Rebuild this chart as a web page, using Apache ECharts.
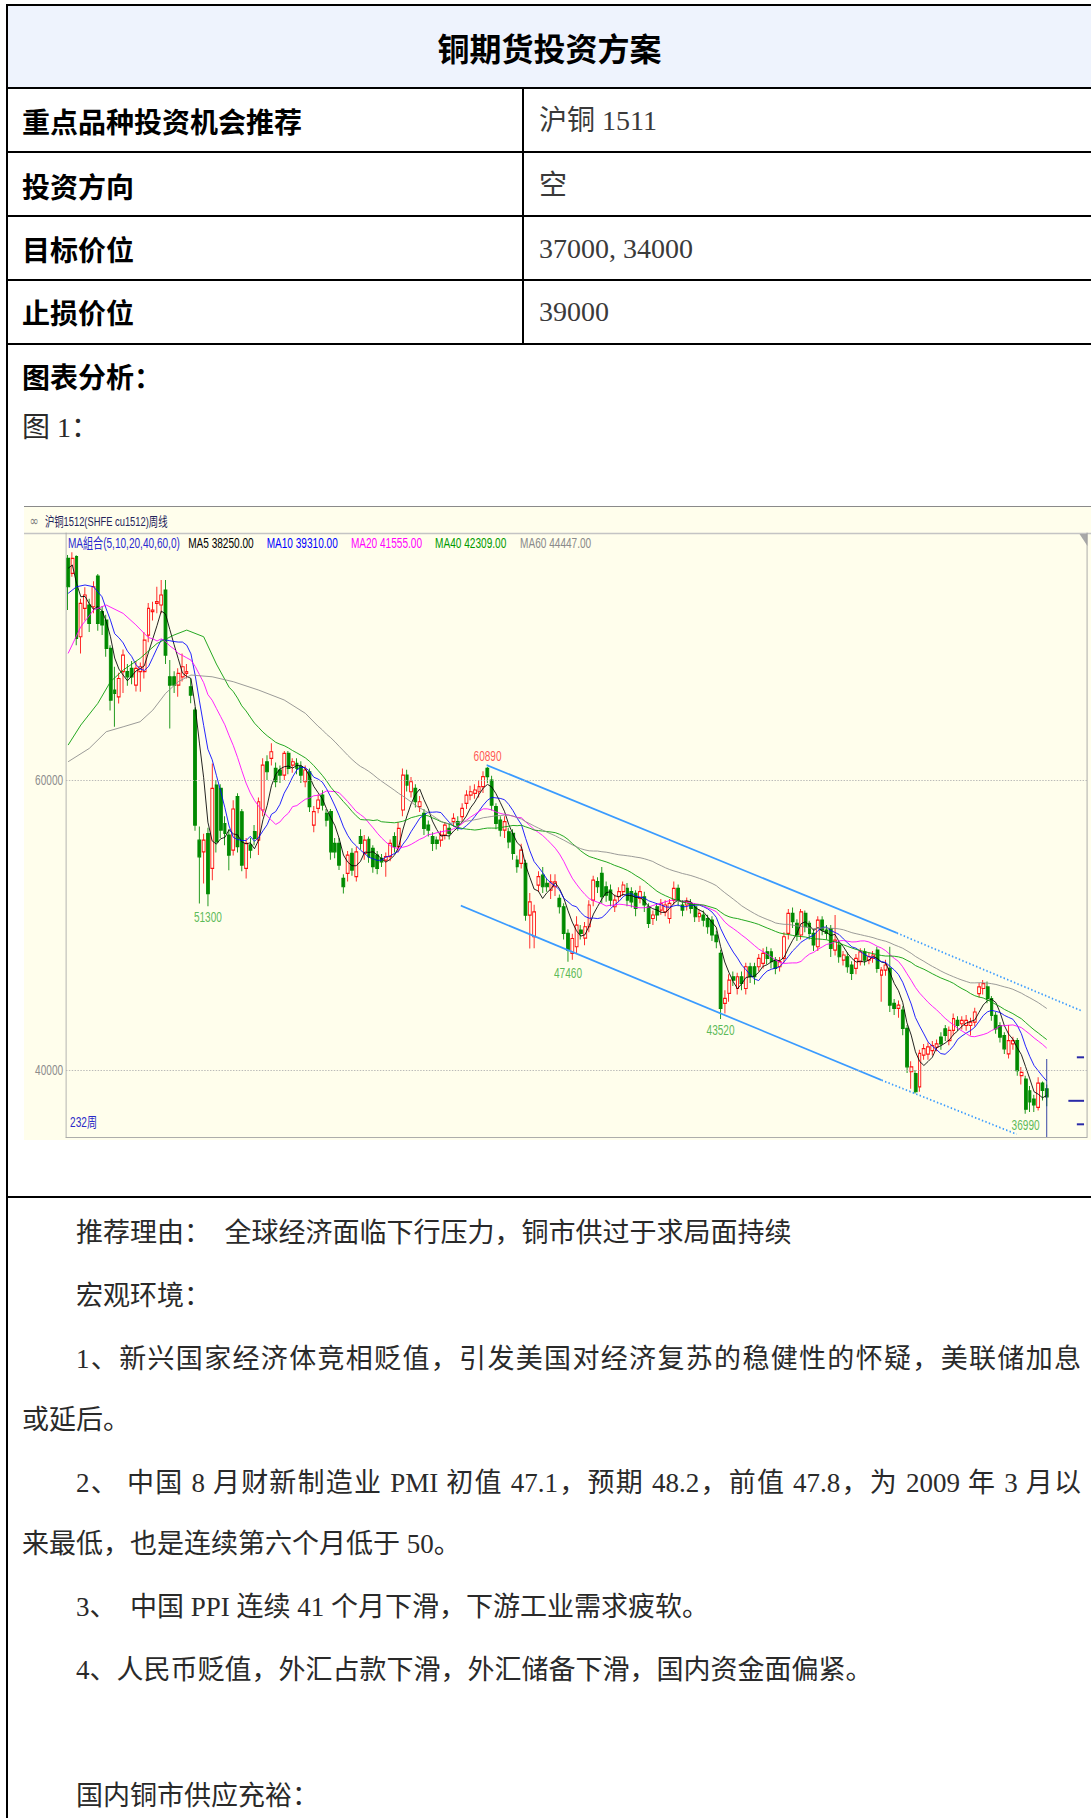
<!DOCTYPE html>
<html><head><meta charset="utf-8">
<script src="https://cdn.jsdelivr.net/npm/echarts@6.0.0/dist/echarts.min.js"></script>
<style>
html,body{margin:0;padding:0;overflow:hidden;background:#fff;}
#page{position:relative;width:1091px;height:1818px;overflow:hidden;background:#fff;}
.ln{position:absolute;background:#000;}
.t{position:absolute;white-space:nowrap;line-height:40px;height:40px;}
.lbl{font-family:"Noto Sans CJK SC",sans-serif;font-weight:700;font-size:28px;color:#000;}
.val{font-family:"Liberation Serif","Noto Sans CJK SC",serif;font-size:28px;color:#3a3a3a;}
.txt{font-family:"Liberation Serif","Noto Sans CJK SC",serif;font-size:27px;color:#2a2a2a;}
.just{text-align:justify;text-align-last:justify;}
</style></head>
<body>
<div id="page">
  <div style="position:absolute;left:8px;top:6px;width:1083px;height:81px;background:#eef3fd;"></div>
  <div class="ln" style="left:6px;top:4px;width:1085px;height:2px;"></div>
  <div class="ln" style="left:6px;top:4px;width:2px;height:1814px;"></div>
  <div class="ln" style="left:6px;top:87px;width:1085px;height:2px;"></div>
  <div class="ln" style="left:6px;top:151px;width:1085px;height:2px;"></div>
  <div class="ln" style="left:6px;top:215px;width:1085px;height:2px;"></div>
  <div class="ln" style="left:6px;top:279px;width:1085px;height:2px;"></div>
  <div class="ln" style="left:6px;top:343px;width:1085px;height:2px;"></div>
  <div class="ln" style="left:522px;top:88px;width:2px;height:256px;"></div>
  <div class="ln" style="left:6px;top:1196px;width:1085px;height:2px;"></div>

  <div class="t lbl" style="left:8px;top:27px;width:1083px;text-align:center;font-size:32px;">铜期货投资方案</div>
  <div class="t lbl" style="left:22px;top:101px;">重点品种投资机会推荐</div>
  <div class="t val" style="left:539px;top:101px;">沪铜 1511</div>
  <div class="t lbl" style="left:22px;top:166px;">投资方向</div>
  <div class="t val" style="left:539px;top:166px;">空</div>
  <div class="t lbl" style="left:22px;top:229px;">目标价位</div>
  <div class="t val" style="left:539px;top:229px;">37000, 34000</div>
  <div class="t lbl" style="left:22px;top:292px;">止损价位</div>
  <div class="t val" style="left:539px;top:292px;">39000</div>
  <div class="t lbl" style="left:22px;top:356px;">图表分析：</div>
  <div class="t val" style="left:22px;top:408px;color:#2a2a2a;">图 1：</div>

  <div style="position:absolute;left:24px;top:506px;width:1067px;height:1px;background:#8a8a8a;"></div>
  <div id="chartBox" style="position:absolute;left:24px;top:507px;width:1067px;height:633px;overflow:hidden;background:#fffeec;">
    <div id="chart" style="position:absolute;left:0;top:0;width:1482px;height:633px;transform:scaleX(0.72);transform-origin:0 0;"></div>
  </div>

  <div class="t txt" style="left:76px;top:1213px;">推荐理由：&ensp;全球经济面临下行压力，铜市供过于求局面持续</div>
  <div class="t txt" style="left:76px;top:1276px;">宏观环境：</div>
  <div class="t txt just" style="left:76px;top:1339px;width:1005px;white-space:normal;">1、新兴国家经济体竞相贬值，引发美国对经济复苏的稳健性的怀疑，美联储加息</div>
  <div class="t txt" style="left:22px;top:1400px;">或延后。</div>
  <div class="t txt just" style="left:76px;top:1463px;width:1005px;white-space:normal;">2、 中国 8 月财新制造业 PMI 初值 47.1，预期 48.2，前值 47.8，为 2009 年 3 月以</div>
  <div class="t txt" style="left:22px;top:1524px;">来最低，也是连续第六个月低于 50。</div>
  <div class="t txt" style="left:76px;top:1587px;">3、&ensp;中国 PPI 连续 41 个月下滑，下游工业需求疲软。</div>
  <div class="t txt" style="left:76px;top:1650px;">4、人民币贬值，外汇占款下滑，外汇储备下滑，国内资金面偏紧。</div>
  <div class="t txt" style="left:76px;top:1776px;">国内铜市供应充裕：</div>
</div>
<script>
// ---- data (weekly candles, SHFE cu1512) ----
const opens = [
75290,74250,75400,69880,71840,72070,71950,74070,71610,71030,
69080,66200,65740,67470,67470,67700,66550,67470,67470,69990,
71610,72180,72070,73100,67120,67120,66550,67120,67350,66430,
64820,55850,55050,56300,53900,59650,59420,57000,56200,55170,
58850,57810,53900,55520,56440,55860,57930,61260,61490,60800,
60690,60340,61840,61030,61150,60920,59880,60570,56890,58040,
58960,57700,57820,55630,55630,53210,53560,54940,53330,56090,
54940,55900,55280,54820,54590,54480,54710,56090,55400,57930,
60340,59190,59420,58160,57700,56890,56090,55860,55860,56200,
56660,57130,57130,57470,58390,58960,59080,59190,59540,60800,
60000,58160,57240,56550,56430,56320,54480,54250,54250,50680,
49190,52750,53440,52870,52410,52640,51830,51260,49420,48040,
48500,49650,49100,49880,51720,52990,53560,52640,52410,51260,
51950,52300,52520,52300,52180,51830,51950,51260,50450,51260,
51030,50910,50450,51720,52520,51380,51380,51490,51260,50570,
50690,50450,50340,49310,48040,44590,45280,46430,45620,46430,
45620,47120,47120,47120,47350,48150,48150,47580,47120,47700,
49420,50800,50110,49310,50800,50110,49420,48500,50340,49650,
49760,48270,48620,47580,47810,47240,47010,47470,48150,47580,
47700,48270,46540,46890,47010,44590,44250,44130,42870,39880,
39760,38840,41030,41100,41340,41570,42270,42840,42030,42730,
43420,43190,43070,43070,43300,45270,45620,45730,44930,43770,
43070,42380,41110,41800,42030,39610,39380,38570,38000,37420,
39100,38700];
const closes = [
73330,75290,69770,72180,72760,70800,73330,70800,70690,69080,
65510,65970,67000,68620,67120,67120,67700,67810,69650,71840,
71720,72300,72760,68620,66550,66550,67350,67810,67470,65860,
56890,54700,55850,52170,59420,55740,56550,56320,54820,58000,
55400,54130,55630,55170,55970,58500,61030,60570,61950,59880,
60340,61840,60800,61260,60800,60340,60690,58160,57820,58620,
58270,57240,55050,55050,54130,52640,54820,53790,55050,55630,
55860,54700,54020,53900,54360,54710,55630,55400,56670,60340,
59650,59880,58500,58500,56660,56550,55630,55630,56200,56890,
56320,57350,56890,58040,58960,59190,59310,59540,60230,60230,
58270,57010,56550,57130,55740,54940,54020,55170,50680,51600,
50910,53330,52640,52640,52980,52980,51260,49420,48270,49070,
49990,49420,49880,51380,53100,52640,51950,52060,51720,51720,
52300,52760,51720,51600,51140,52300,51380,50110,50690,50690,
51490,51380,51490,52520,51720,51030,51610,51140,50570,50800,
50340,49880,49310,48850,44250,44940,46200,46200,46430,45970,
47120,46430,46430,47700,48040,47700,47470,47010,47470,49190,
50800,50230,49310,50910,49880,49420,48620,50340,49650,49420,
48390,48960,47810,47930,47120,46660,47700,48150,47580,47810,
47930,47010,46890,47240,44480,44250,44480,42870,40220,40220,
38500,41140,41480,41600,41690,41800,41800,42380,42730,43540,
43070,43420,43420,43300,44000,45730,45960,44930,43770,42840,
42270,41460,42030,42030,39960,39840,37300,37800,37600,39100,
38600,38150];
const lows = [
71720,74020,69300,68730,71000,70200,71500,70300,70000,68500,
64800,63670,65280,66000,66500,66600,66100,66090,67000,69500,
71000,71500,71500,68000,63560,66000,65740,66800,67000,65300,
56500,51480,52860,51300,53090,55000,56000,55500,53780,54800,
55000,53700,53200,54600,55500,54820,57500,60000,61000,59500,
59800,60000,60400,60500,60400,59800,59500,57800,56400,57700,
57900,56800,54500,54600,53800,52180,53000,53400,53000,55200,
54500,54300,53600,53500,54000,53330,54400,55000,55000,57500,
59200,58800,58100,57800,56200,56100,55100,55200,55400,55900,
55900,56800,56500,57100,58000,58600,58700,58800,59100,59800,
57900,56600,56100,56000,55300,54500,53600,53900,50300,48380,
48400,52300,52200,52300,51800,52000,50800,49000,47460,47600,
48000,49000,48600,49500,51300,52200,51500,51600,51300,50900,
51600,52000,51300,51200,50600,51500,50900,49800,50000,50300,
50700,50600,50100,51400,51300,50600,51000,50800,50200,50200,
49900,49400,48900,48400,43520,43900,44700,45800,45200,45500,
45200,46000,45900,46800,47000,47300,47000,46600,46800,47400,
49000,49800,48900,49000,49500,49000,48200,48200,49300,49000,
47800,47900,47400,47200,46700,46200,46600,47200,47200,47300,
47400,46700,44700,46500,44000,43800,43600,42400,39800,38700,
38380,38500,40700,40700,41000,41300,41400,42000,41700,42400,
42700,42800,42700,42380,43000,45000,45200,44600,43400,42500,
41900,41100,40800,41400,39600,39000,36990,37100,37100,37200,
37900,37500];
const highs = [
75520,75700,75500,72500,73300,72500,73700,74200,72000,71400,
69300,67810,67400,69000,68000,68200,68200,68100,70200,72200,
72300,73330,73790,73790,68280,67500,67700,68730,68000,67000,
65000,56800,56300,56700,61140,60000,59700,57500,56600,58600,
59080,58000,56000,56000,56900,58800,61500,61700,62530,61200,
61000,62000,62000,61500,61500,61300,61000,60800,58200,59000,
59300,58000,58000,56000,56000,53500,55100,55300,55400,56600,
56200,56100,55500,55100,54900,55000,55900,56400,57100,60800,
60700,60200,59700,58900,58000,57200,56400,56100,56500,57100,
57000,57700,57500,58400,59300,59600,59700,60000,60600,60890,
60300,58400,57500,57500,56700,56600,54800,55600,54500,52200,
51400,53700,54000,53200,53500,53500,52100,51500,49700,49400,
50600,50000,50200,51700,53400,53300,54000,53000,52800,52100,
52600,53000,52900,52600,52400,52700,52300,51500,51000,51500,
51800,51700,51800,53000,52800,51700,51900,51800,51500,51100,
51000,50700,50600,49600,48300,45500,46600,46800,46700,46800,
47400,47400,47400,48000,48400,48500,48400,47800,47800,49500,
51100,51200,50400,51100,51000,50300,49700,50600,50600,50000,
50000,50690,48900,48200,48100,47500,48000,48400,48400,48100,
48200,48500,47100,47600,48500,44900,44800,44400,43100,40600,
40000,41400,41800,41900,42000,42100,42600,43100,43000,43900,
43700,43700,43800,43600,44300,46000,46200,46100,45100,44000,
43300,42600,43100,42300,42200,40200,39600,38900,38300,39500,
39200,39000];

// y-axis tick labels and range
const yTickValues = [40000, 60000];
const yMin = 35379;
const yMax = 77036;
const slotCount = 241;   // week slots across the plot (data fills the first 232)

// moving-average settings and the legend numbers printed on the chart
const maPeriods = [5, 10, 20, 40, 60];
const maLegendValues = ['38250.00', '39310.00', '41555.00', '42309.00', '44447.00'];
// the first points of each MA line (before its window is full)
const ma5LeadIdx = [0, 1, 2, 3];
const ma5LeadVal = [74600, 74830, 73560, 72640];
const ma10LeadIdx = [0, 2, 4, 6, 8];
const ma10LeadVal = [72870, 73330, 73450, 73330, 72640];
const ma20LeadIdx = [0, 3, 6, 9, 13, 16, 18];
const ma20LeadVal = [68730, 70570, 71720, 72070, 71490, 70700, 70100];
const ma40LeadIdx = [0, 3, 7, 10, 13, 17, 21, 25, 28, 32, 35, 38];
const ma40LeadVal = [62410, 63790, 65280, 66780, 67580, 68390, 69420, 70000, 70340, 69880, 68000, 66400];
const ma60LeadIdx = [0, 5, 9, 13, 17, 20, 23, 26, 29, 34, 39, 45, 51, 56];
const ma60LeadVal = [61260, 62180, 63330, 63670, 64020, 64820, 65970, 66780, 67240, 67120, 66780, 66200, 65520, 64600];

// labelled extremes
const extremeIdx = [33, 99, 118, 154, 226];
const extremeVal = [51300, 60890, 47460, 43520, 36990];
const extremeIsHigh = [false, true, false, false, false];

// drawn trend channel (week index, price): solid part then dotted extension
const trendUpperIdx = [98.8, 195.6, 239.3];
const trendUpperVal = [61030, 49450, 44070];
const trendLowerIdx = [92.7, 192, 223.9];
const trendLowerVal = [51330, 39300, 35570];

// cursor line on the last week and the price markers at the right edge
const cursorIdx = 231;
const cursorTopVal = 40760;
const priceMarkVals = [40875, 37875, 36254];
const priceMarkFrom = [238.1, 236.1, 238.1];
const priceMarkTo = 239.8;

// ---- build the chart ----
const weekSlots = Array.from({length: slotCount}, (_, i) => String(i));
const candleData = opens.map((o, i) => [o, closes[i], lows[i], highs[i]]);
const maLeads = [[ma5LeadIdx, ma5LeadVal], [ma10LeadIdx, ma10LeadVal], [ma20LeadIdx, ma20LeadVal], [ma40LeadIdx, ma40LeadVal], [ma60LeadIdx, ma60LeadVal]];
const maColors = ['#000000', '#0000ff', '#ff00ff', '#009a00', '#8a8a8a'];

function maLine(period, leadIdx, leadVal) {
  const pts = leadIdx.map((x, k) => [x, leadVal[k]]);
  for (let i = period - 1; i < closes.length; i++) {
    let s = 0;
    for (let j = i - period + 1; j <= i; j++) s += closes[j];
    pts.push([i, Math.round(s / period)]);
  }
  return pts;
}

const FONT = '"Liberation Sans","Noto Sans CJK SC",sans-serif';
const series = [];
series.push({
  type: 'candlestick', xAxisIndex: 0, yAxisIndex: 0, data: candleData, barWidth: 4.4, z: 2,
  itemStyle: {color: 'rgba(0,0,0,0)', color0: '#008a00', borderColor: '#ff1010', borderColor0: '#008a00', borderWidth: 1.2},
  markLine: {silent: true, symbol: 'none', animation: false, label: {show: false},
    lineStyle: {color: '#b0b0b0', type: [2, 2], width: 1},
    data: yTickValues.map(v => ({yAxis: v}))}
});
maPeriods.forEach((p, k) => {
  series.push({
    type: 'line', xAxisIndex: 1, yAxisIndex: 0, z: 3, showSymbol: false, symbol: 'none', silent: true,
    data: maLine(p, maLeads[k][0], maLeads[k][1]),
    lineStyle: {color: maColors[k], width: 1}
  });
});
function trendSeries(idx, val) {
  return [
    {type: 'line', xAxisIndex: 1, z: 4, symbol: 'none', silent: true,
     data: [[idx[0], val[0]], [idx[1], val[1]]], lineStyle: {color: '#3a9bff', width: 1.8}},
    {type: 'line', xAxisIndex: 1, z: 4, symbol: 'none', silent: true,
     data: [[idx[1], val[1]], [idx[2], val[2]]], lineStyle: {color: '#3a9bff', width: 1.8, type: [2, 3]}}
  ];
}
series.push(...trendSeries(trendUpperIdx, trendUpperVal));
series.push(...trendSeries(trendLowerIdx, trendLowerVal));
series.push({
  type: 'line', xAxisIndex: 1, z: 5, symbol: 'none', silent: true,
  data: [[cursorIdx, cursorTopVal], [cursorIdx, yMin]], lineStyle: {color: '#1a2a9a', width: 1.2}
});
priceMarkVals.forEach((v, k) => {
  series.push({
    type: 'line', xAxisIndex: 1, z: 5, symbol: 'none', silent: true,
    data: [[priceMarkFrom[k], v], [priceMarkTo, v]], lineStyle: {color: '#2a2aa8', width: 2}
  });
});
series.push({
  type: 'scatter', xAxisIndex: 1, z: 6, symbolSize: 1, silent: true,
  itemStyle: {color: 'rgba(0,0,0,0)'},
  data: extremeIdx.map((x, k) => ({
    value: [x, extremeVal[k]],
    label: {show: true, formatter: String(extremeVal[k]), position: extremeIsHigh[k] ? 'top' : 'bottom',
      distance: extremeIsHigh[k] ? 3 : 4, color: extremeIsHigh[k] ? '#ff2a2a' : '#2fa82f',
      fontSize: 14, fontFamily: FONT}
  }))
});

const legendItems = [
  {text: 'MA組合(5,10,20,40,60,0)', x: 61, color: '#2a2ad0'},
  {text: 'MA5 ' + maLegendValues[0], x: 228, color: maColors[0]},
  {text: 'MA10 ' + maLegendValues[1], x: 337, color: maColors[1]},
  {text: 'MA20 ' + maLegendValues[2], x: 454, color: maColors[2]},
  {text: 'MA40 ' + maLegendValues[3], x: 571, color: maColors[3]},
  {text: 'MA60 ' + maLegendValues[4], x: 689, color: maColors[4]}
];
const graphic = [
  {type: 'line', silent: true, shape: {x1: 0, y1: 26.5, x2: 1482, y2: 26.5}, style: {stroke: '#c4c4c4', lineWidth: 1.5}},
  {type: 'polygon', silent: true, shape: {points: [[1466, 27], [1477, 27], [1477, 39]]}, style: {fill: '#a8a8a8'}},
  {type: 'text', silent: true, x: 8, y: 14, style: {text: '∞', fill: '#808080', font: '15px "DejaVu Sans"', verticalAlign: 'middle'}},
  {type: 'text', silent: true, x: 29, y: 14, style: {text: '沪铜1512(SHFE cu1512)周线', fill: '#22225a', font: '13px ' + FONT, verticalAlign: 'middle'}},
  {type: 'text', silent: true, x: 64, y: 615, style: {text: '232周', fill: '#2a2ac8', font: '14px ' + FONT, verticalAlign: 'middle'}}
];
legendItems.forEach(it => graphic.push({type: 'text', silent: true, x: it.x, y: 36,
  style: {text: it.text, fill: it.color, font: '14px ' + FONT, verticalAlign: 'middle'}}));

const chart = echarts.init(document.getElementById('chart'), null, {renderer: 'svg', width: 1482, height: 633});
chart.setOption({
  animation: false,
  backgroundColor: '#fffeec',
  grid: {left: 58.3, right: 5.6, top: 26, bottom: 3, outerBoundsMode: 'none'},
  xAxis: [
    {type: 'category', data: weekSlots, boundaryGap: true,
     axisLine: {show: true, onZero: false, lineStyle: {color: '#a0a0a0'}},
     axisTick: {show: false}, axisLabel: {show: false}, splitLine: {show: false}},
    {type: 'value', min: -0.5, max: slotCount - 0.5, show: false}
  ],
  yAxis: [
    {type: 'value', min: yMin, max: yMax, position: 'left',
     axisLine: {show: true, onZero: false, lineStyle: {color: '#a8a8a8'}},
     axisTick: {show: false}, splitLine: {show: false},
     axisLabel: {customValues: yTickValues, formatter: v => String(v), color: '#8c8c8c', fontSize: 14, fontFamily: FONT, margin: 4}},
    {type: 'value', min: yMin, max: yMax, position: 'right',
     axisLine: {show: true, onZero: false, lineStyle: {color: '#a0a0a0'}},
     axisTick: {show: false}, axisLabel: {show: false}, splitLine: {show: false}}
  ],
  graphic: graphic,
  series: series
});
</script>
</body></html>
